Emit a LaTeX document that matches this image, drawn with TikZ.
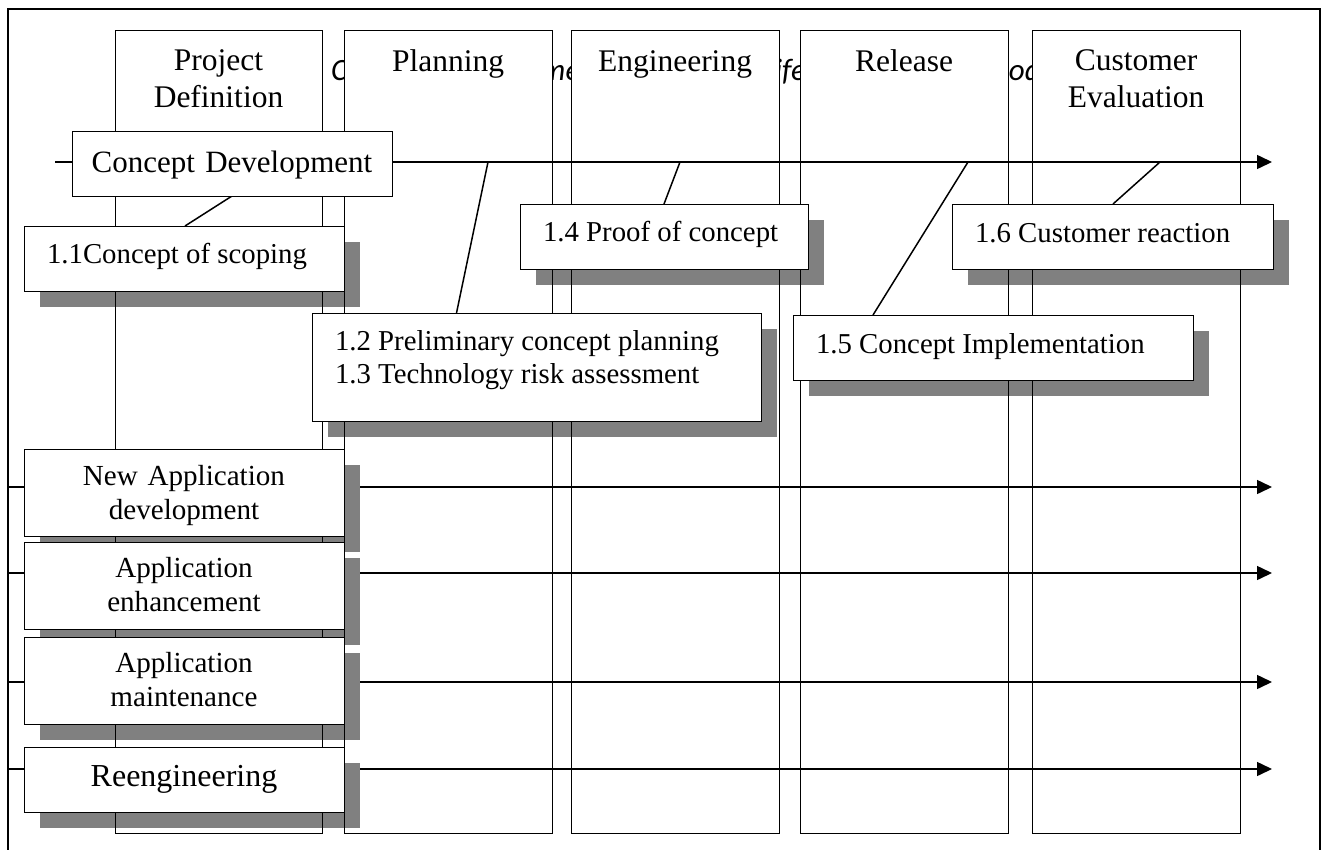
\documentclass[tikz,border=0pt]{standalone}
\usepackage{fontspec}
\setmainfont{Liberation Serif}
\newfontfamily\capfont{Carlito}
\usetikzlibrary{arrows.meta}
\definecolor{shadowgray}{RGB}{128,128,128}
\pgfdeclarelayer{back}
\pgfdeclarelayer{shade}
\pgfdeclarelayer{edge}
\pgfsetlayers{back,shade,edge,main}
% grey drop shadow behind a box, 16pt right and down
\newcommand\castshadow[1]{%
  \begin{pgfonlayer}{shade}
    \fill[shadowgray] ([shift={(16,16)}]#1.north west) rectangle ([shift={(16,16)}]#1.south east);
  \end{pgfonlayer}}
\begin{document}
\begin{tikzpicture}[x=1pt,y=-1pt,line width=1.6pt,
  every node/.style={inner sep=0pt,outer sep=0pt},
  colarea/.style={fill=white,minimum width=#1,minimum height=803pt,anchor=north west},
  colname/.style={anchor=base,font=\fontsize{31.5}{37}\selectfont},
  taskbox/.style={draw,fill=white,anchor=north west,
    font=\fontsize{28.8}{33}\selectfont,inner xsep=23pt},
  projbox/.style={draw,fill=white,anchor=north west,align=center,text width=320pt,
    font=\fontsize{29.1}{34.5}\selectfont},
  flow/.style={line width=1.5pt,-{Triangle[length=15pt,width=14pt]}},
  link/.style={line width=1.5pt}]
\useasboundingbox (0,0) rectangle (1322,849);

\begin{pgfonlayer}{back}
  % heading line, mostly covered by the phase columns
  \node[anchor=base west,font=\capfont\itshape\fontsize{31}{37}\selectfont] (heading)
    at (331,80) {Concept Development Application Lifecycle in Spiral Model};
  % phase columns
  \node[colarea=207pt] (pd) at (115,30) {};
  \node[colarea=208pt] (pl) at (344,30) {};
  \node[colarea=208pt] (en) at (571,30) {};
  \node[colarea=208pt] (re) at (800,30) {};
  \node[colarea=208pt] (ce) at (1032,30) {};
  \node[colname] (pdname) at (218.5,70) {\begin{tabular}[t]{@{}c@{}}Project\\Definition\end{tabular}};
  \node[colname] (plname) at (448,71) {Planning};
  \node[colname] (enname) at (675,71) {Engineering};
  \node[colname] (rename) at (904,71) {Release};
  \node[colname] (cename) at (1136,70) {\begin{tabular}[t]{@{}c@{}}Customer\\Evaluation\end{tabular}};
  % project entry axes
  \coordinate (mainstart) at (55,162);
  \coordinate (mainend) at (1272,162);
  \coordinate (m2) at (488,162);
  \coordinate (m4) at (680,162);
  \coordinate (m5) at (968,162);
  \coordinate (m6) at (1160,162);
  \draw[flow] (mainstart) -- (mainend);
  \coordinate (a1) at (8,487);   \coordinate (b1) at (1272,487);
  \coordinate (a2) at (8,573);   \coordinate (b2) at (1272,573);
  \coordinate (a3) at (8,682);   \coordinate (b3) at (1272,682);
  \coordinate (a4) at (8,769);   \coordinate (b4) at (1272,769);
  \draw[flow] (a1) -- (b1);
  \draw[flow] (a2) -- (b2);
  \draw[flow] (a3) -- (b3);
  \draw[flow] (a4) -- (b4);
\end{pgfonlayer}

% column outlines above the shadows
\begin{pgfonlayer}{edge}
  \foreach \c in {pd,pl,en,re,ce}
    \draw (\c.north west) rectangle (\c.south east);
\end{pgfonlayer}

% concept development box
\node[draw,fill=white,anchor=north west,align=center,text width=320pt,
  font=\fontsize{31}{37}\selectfont,text height=41pt,text depth=24pt] (cd)
  at (72,131) {Concept Development};

% task boxes
\node[taskbox,text height=37pt,text depth=28pt] (t11) at (24,226)
  {\makebox[274pt][l]{1.1Concept of scoping}};
\castshadow{t11}
\node[taskbox,text height=37pt,text depth=71pt] (t12) at (312,313)
  {\makebox[403pt][l]{\begin{tabular}[t]{@{}l@{}}1.2 Preliminary concept planning\\1.3 Technology risk assessment\end{tabular}}};
\castshadow{t12}
\node[taskbox,text height=37pt,text depth=28pt] (t14) at (520,204)
  {\makebox[242pt][l]{1.4 Proof of concept}};
\castshadow{t14}
\node[taskbox,text height=38pt,text depth=27pt] (t15) at (793,315)
  {\makebox[354pt][l]{1.5 Concept Implementation}};
\castshadow{t15}
\node[taskbox,text height=38pt,text depth=27pt] (t16) at (952,204)
  {\makebox[275pt][l]{1.6 Customer reaction}};
\castshadow{t16}

% project type boxes
\node[projbox,text height=36pt,text depth=51pt] (nad) at (24,449)
  {\begin{tabular}[t]{@{}c@{}}New Application\\development\end{tabular}};
\castshadow{nad}
\node[projbox,text height=35.3pt,text depth=51.7pt] (ae) at (24,542)
  {\begin{tabular}[t]{@{}c@{}}Application\\enhancement\end{tabular}};
\castshadow{ae}
\node[projbox,text height=35.3pt,text depth=51.7pt] (am) at (24,637)
  {\begin{tabular}[t]{@{}c@{}}Application\\maintenance\end{tabular}};
\castshadow{am}
\node[projbox,font=\fontsize{32}{37}\selectfont,text height=39.7pt,text depth=25.3pt] (reeng) at (24,747)
  {Reengineering};
\castshadow{reeng}

% links from the axis to the tasks
\begin{pgfonlayer}{back}
  \draw[link] ([xshift=160pt]cd.south west) -- ([xshift=161pt]t11.north west);
  \draw[link] (m2) -- ([xshift=144.5pt]t12.north west);
  \draw[link] (m4) -- ([xshift=144pt]t14.north west);
  \draw[link] (m5) -- ([xshift=80pt]t15.north west);
  \draw[link] (m6) -- ([xshift=161pt]t16.north west);
\end{pgfonlayer}

% outer frame
\draw[line width=1.5pt] (8,852) -- (8,9) -- (1320,9) -- (1320,852);
\end{tikzpicture}
\end{document}
